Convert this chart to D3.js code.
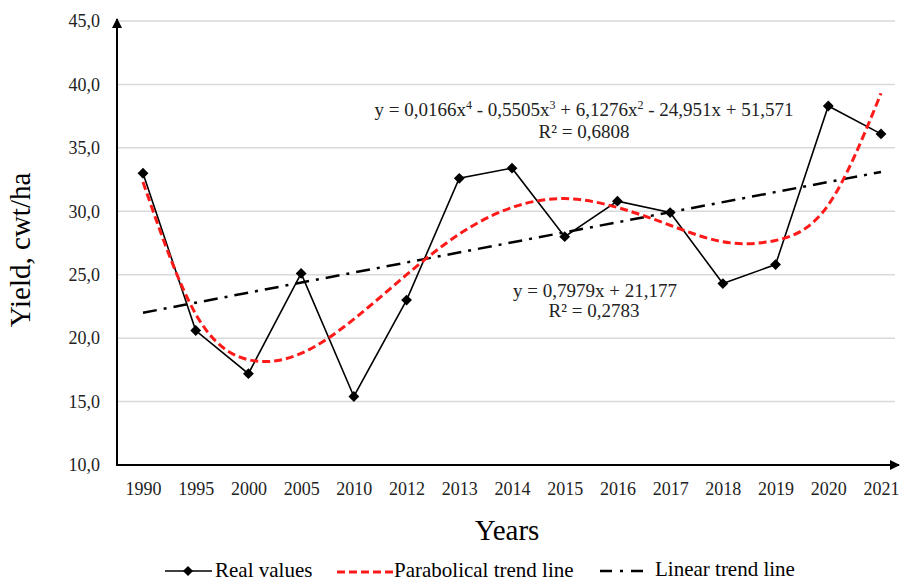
<!DOCTYPE html>
<html>
<head>
<meta charset="utf-8">
<script src="https://cdn.jsdelivr.net/npm/d3@7"></script>
<style>
  body { margin: 0; background: #fff; }
  svg { display: block; font-family: "Liberation Serif", "Times New Roman", serif; }
</style>
</head>
<body>
<svg width="901" height="583"></svg>
<script>
  // data
  const years = ["1990", "1995", "2000", "2005", "2010", "2012", "2013", "2014", "2015", "2016", "2017", "2018", "2019", "2020", "2021"];
  const realValues = [33.0, 20.6, 17.2, 25.1, 15.4, 23.0, 32.6, 33.4, 28.0, 30.8, 29.9, 24.3, 25.8, 38.3, 36.1];
  const parabolicTrend = [32.3, 21.9, 18.3, 18.8, 21.5, 25.0, 28.2, 30.3, 31.0, 30.3, 28.9, 27.6, 27.7, 30.5, 39.3];
  const linearTrend = [{ year: "1990", value: 22.0 }, { year: "2021", value: 33.1 }];
  const yTicks = [10, 15, 20, 25, 30, 35, 40, 45];

  const svg = d3.select("svg");
  const plotLeft = 117, plotRight = 897, plotTop = 21, plotBottom = 465;

  // scales
  const x = d3.scalePoint().domain(years).range([143, 881]);
  const y = d3.scaleLinear().domain([10, 45]).range([plotBottom, plotTop]);

  // gridlines
  svg.append("g")
    .selectAll("line")
    .data(yTicks.filter(t => t > 10))
    .join("line")
    .attr("x1", plotLeft).attr("x2", 895)
    .attr("y1", d => y(d)).attr("y2", d => y(d))
    .attr("stroke", "#d9d9d9")
    .attr("stroke-width", 1.5);

  // y axis labels
  const yAxis = svg.append("g")
    .attr("transform", `translate(${plotLeft},0)`)
    .call(d3.axisLeft(y).tickValues(yTicks).tickSize(0).tickPadding(17)
      .tickFormat(d => d3.format(".1f")(d).replace(".", ",")));
  yAxis.select(".domain").remove();
  yAxis.selectAll("text").style("font-size", "18px").attr("fill", "#222").style("font-family", "Liberation Serif");

  // x axis labels
  const xAxis = svg.append("g")
    .attr("transform", `translate(0,${plotBottom})`)
    .call(d3.axisBottom(x).tickSize(0).tickPadding(17));
  xAxis.select(".domain").remove();
  xAxis.selectAll("text").style("font-size", "18px").attr("fill", "#222").style("font-family", "Liberation Serif");

  // axis lines with arrows
  const defs = svg.append("defs");
  defs.append("marker")
    .attr("id", "arrow")
    .attr("viewBox", "0 0 10 10")
    .attr("refX", 9).attr("refY", 5)
    .attr("markerWidth", 5).attr("markerHeight", 5)
    .attr("markerUnits", "strokeWidth")
    .attr("orient", "auto")
    .append("path").attr("d", "M0,0L10,5L0,10Z").attr("fill", "#000");

  svg.append("line")
    .attr("x1", plotLeft).attr("y1", plotBottom).attr("x2", plotLeft).attr("y2", plotTop - 2)
    .attr("stroke", "#000").attr("stroke-width", 2).attr("marker-end", "url(#arrow)");
  svg.append("line")
    .attr("x1", plotLeft - 1).attr("y1", plotBottom).attr("x2", plotRight + 2).attr("y2", plotBottom)
    .attr("stroke", "#000").attr("stroke-width", 2).attr("marker-end", "url(#arrow)");

  // real values line
  const line = d3.line()
    .x((d, i) => x(years[i]))
    .y(d => y(d));

  svg.append("path")
    .datum(realValues)
    .attr("fill", "none")
    .attr("stroke", "#000")
    .attr("stroke-width", 1.6)
    .attr("d", line);

  // diamonds
  svg.selectAll(".dot")
    .data(realValues)
    .join("path")
    .attr("class", "dot")
    .attr("d", d3.symbol().type(d3.symbolDiamond2).size(75))
    .attr("transform", (d, i) => `translate(${x(years[i])},${y(d)})`)
    .attr("fill", "#000");

  // linear trend
  svg.append("path")
    .datum(linearTrend)
    .attr("fill", "none")
    .attr("stroke", "#000")
    .attr("stroke-width", 2.5)
    .attr("stroke-dasharray", "14,7,3,7")
    .attr("d", d3.line().x(d => x(d.year)).y(d => y(d.value)));

  // parabolic trend
  svg.append("path")
    .datum(parabolicTrend)
    .attr("fill", "none")
    .attr("stroke", "#ff1a1a")
    .attr("stroke-width", 3)
    .attr("stroke-dasharray", "8,4")
    .attr("d", line.curve(d3.curveNatural));

  // equations
  const eq1 = svg.append("text")
    .attr("x", 584).attr("y", 116)
    .attr("text-anchor", "middle")
    .style("font-size", "19px").attr("fill", "#222");
  eq1.append("tspan").text("y = 0,0166x");
  eq1.append("tspan").attr("dy", -7).style("font-size", "12px").text("4");
  eq1.append("tspan").attr("dy", 7).text(" - 0,5505x");
  eq1.append("tspan").attr("dy", -7).style("font-size", "12px").text("3");
  eq1.append("tspan").attr("dy", 7).text(" + 6,1276x");
  eq1.append("tspan").attr("dy", -7).style("font-size", "12px").text("2");
  eq1.append("tspan").attr("dy", 7).text(" - 24,951x + 51,571");

  svg.append("text")
    .attr("x", 584).attr("y", 138)
    .attr("text-anchor", "middle")
    .style("font-size", "19px").attr("fill", "#222")
    .text("R² = 0,6808");

  svg.append("text")
    .attr("x", 595).attr("y", 297)
    .attr("text-anchor", "middle")
    .style("font-size", "19px").attr("fill", "#222")
    .text("y = 0,7979x + 21,177");
  svg.append("text")
    .attr("x", 594).attr("y", 317)
    .attr("text-anchor", "middle")
    .style("font-size", "19px").attr("fill", "#222")
    .text("R² = 0,2783");

  // axis titles
  svg.append("text")
    .attr("transform", "translate(30,250) rotate(-90)")
    .attr("text-anchor", "middle")
    .style("font-size", "29px")
    .text("Yield, cwt/ha");

  svg.append("text")
    .attr("x", 507).attr("y", 540)
    .attr("text-anchor", "middle")
    .style("font-size", "29px")
    .text("Years");

  // legend
  const legend = svg.append("g").attr("transform", "translate(0,571)");
  legend.append("line").attr("x1", 165).attr("x2", 212).attr("y1", 0).attr("y2", 0)
    .attr("stroke", "#000").attr("stroke-width", 1.6);
  legend.append("path").attr("d", d3.symbol().type(d3.symbolDiamond2).size(65))
    .attr("transform", "translate(188,0)").attr("fill", "#000");
  legend.append("text").attr("x", 215).attr("y", 6).style("font-size", "21px").text("Real values");

  legend.append("line").attr("x1", 337).attr("x2", 393).attr("y1", 1).attr("y2", 1)
    .attr("stroke", "#ff1a1a").attr("stroke-width", 3).attr("stroke-dasharray", "8,4");
  legend.append("text").attr("x", 394).attr("y", 6).style("font-size", "21px").text("Parabolical trend line");

  legend.append("line").attr("x1", 600).attr("x2", 644).attr("y1", 0).attr("y2", 0)
    .attr("stroke", "#000").attr("stroke-width", 2.5).attr("stroke-dasharray", "12,8,3,8");
  legend.append("text").attr("x", 655).attr("y", 5).style("font-size", "21px").text("Linear trend line");
</script>
</body>
</html>
